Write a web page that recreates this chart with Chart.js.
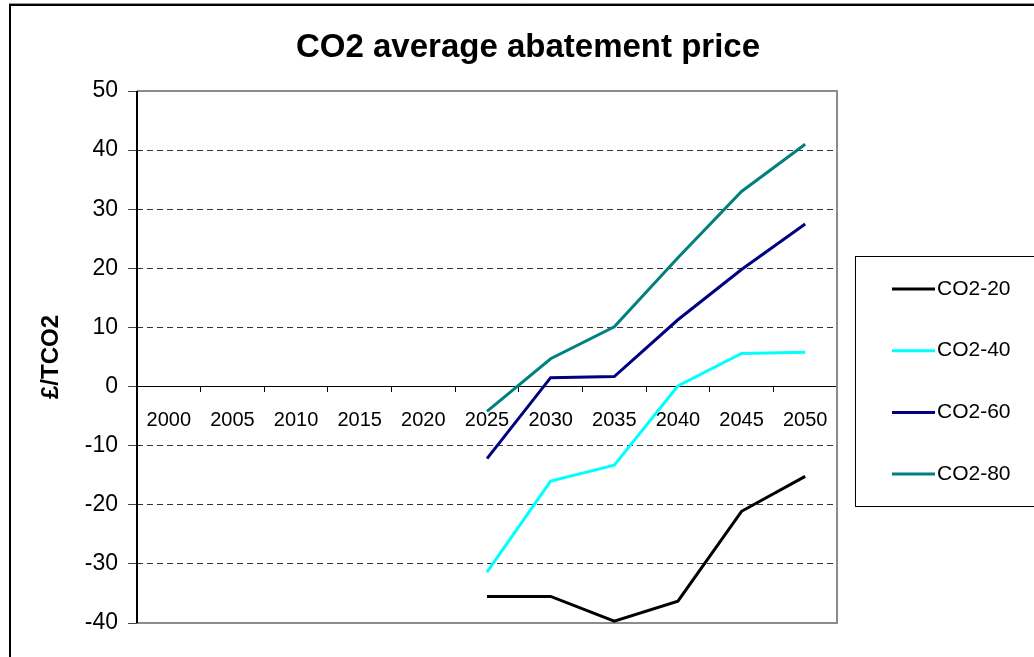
<!DOCTYPE html>
<html>
<head>
<meta charset="utf-8">
<script src="https://cdn.jsdelivr.net/npm/chart.js@4/dist/chart.umd.min.js"></script>
<style>
  html, body { margin: 0; padding: 0; background: #fff; }
  #wrap { width: 1034px; height: 657px; }
</style>
</head>
<body>
<div id="wrap"><canvas id="chart_canvas" width="1034" height="657"></canvas></div>
<script>
var years = ['2000', '2005', '2010', '2015', '2020', '2025', '2030', '2035', '2040', '2045', '2050'];
var co2_20 = [null, null, null, null, null, -35.5, -35.5, -39.7, -36.3, -21.1, -15.2];
var co2_40 = [null, null, null, null, null, -31.4, -16.0, -13.3, 0.1, 5.6, 5.8];
var co2_60 = [null, null, null, null, null, -12.2, 1.5, 1.7, 11.3, 19.8, 27.5];
var co2_80 = [null, null, null, null, null, -4.2, 4.7, 10.1, 21.8, 33.0, 41.0];
var yTicks = [-40, -30, -20, -10, 0, 10, 20, 30, 40, 50];

var FONT = "'Liberation Sans', Arial, sans-serif";

// frame, title, plot border and the boxed legend
var decor = {
  id: 'decor',
  beforeDraw: function(chart) {
    var c = chart.ctx;
    c.save();
    c.fillStyle = '#fff';
    c.fillRect(0, 0, chart.width, chart.height);
    c.strokeStyle = '#999';
    c.lineWidth = 1;
    c.beginPath(); c.moveTo(9, 3.5); c.lineTo(chart.width, 3.5); c.stroke();
    c.strokeStyle = '#000';
    c.lineWidth = 2;
    c.beginPath(); c.moveTo(10, chart.height); c.lineTo(10, 5); c.lineTo(chart.width, 5); c.stroke();
    c.fillStyle = '#000';
    c.font = 'bold 33px ' + FONT;
    c.textAlign = 'center';
    c.textBaseline = 'alphabetic';
    c.fillText('CO2 average abatement price', 528, 57);
    c.restore();
  },
  beforeDatasetsDraw: function(chart) {
    var a = chart.chartArea, c = chart.ctx;
    c.save();
    c.strokeStyle = '#8c8c8c';
    c.lineWidth = 2;
    c.beginPath();
    c.moveTo(a.left, a.top); c.lineTo(a.right, a.top); c.lineTo(a.right, a.bottom); c.lineTo(a.left, a.bottom);
    c.stroke();
    c.strokeStyle = '#000';
    c.lineWidth = 2;
    c.beginPath(); c.moveTo(a.left, a.top); c.lineTo(a.left, a.bottom); c.stroke();
    c.restore();
  },
  afterDraw: function(chart) {
    var c = chart.ctx;
    c.save();
    c.strokeStyle = '#000';
    c.lineWidth = 1;
    c.strokeRect(855.5, 256.5, 200, 250);
    c.font = '21px ' + FONT;
    c.textAlign = 'left';
    c.textBaseline = 'middle';
    chart.data.datasets.forEach(function(ds, i) {
      var y = 289 + i * 61.7;
      c.strokeStyle = ds.borderColor;
      c.lineWidth = 3;
      c.beginPath(); c.moveTo(892, y); c.lineTo(935, y); c.stroke();
      c.fillStyle = '#000';
      c.fillText(ds.label, 937, y);
    });
    c.restore();
  }
};

var ctx = document.getElementById('chart_canvas').getContext('2d');
window.price_chart = new Chart(ctx, {
  type: 'line',
  data: {
    labels: years,
    datasets: [
      { label: 'CO2-20', data: co2_20, borderColor: '#000000', backgroundColor: '#000000' },
      { label: 'CO2-40', data: co2_40, borderColor: '#00FFFF', backgroundColor: '#00FFFF' },
      { label: 'CO2-60', data: co2_60, borderColor: '#000080', backgroundColor: '#000080' },
      { label: 'CO2-80', data: co2_80, borderColor: '#008080', backgroundColor: '#008080' }
    ]
  },
  options: {
    responsive: false,
    animation: false,
    layout: { padding: { left: 0, top: 91, right: 197, bottom: 34 } },
    elements: {
      line: { borderWidth: 3, tension: 0, fill: false },
      point: { radius: 0, hoverRadius: 0 }
    },
    plugins: {
      legend: { display: false },
      title: { display: false },
      tooltip: { enabled: false }
    },
    scales: {
      x: {
        type: 'category',
        position: { y: 0 },
        offset: true,
        grid: { offset: true, drawOnChartArea: false, drawTicks: true, tickLength: 5, color: '#000', tickColor: '#000' },
        border: { display: true, color: '#000', width: 1 },
        ticks: { color: '#000', font: { family: FONT, size: 20 }, padding: 17, maxRotation: 0, autoSkip: false }
      },
      y: {
        min: -40,
        max: 50,
        afterBuildTicks: function(scale) { scale.ticks = yTicks.map(function(v) { return { value: v }; }); },
        afterFit: function(scale) { scale.width = 137; },
        grid: { color: '#333', lineWidth: 1, tickLength: 9, tickColor: '#444', tickBorderDash: [] },
        border: { display: false, dash: [6, 4] },
        ticks: { color: '#000', font: { family: FONT, size: 23 }, padding: 10 },
        title: { display: true, text: '£/TCO2', color: '#000', font: { family: FONT, size: 24, weight: 'bold' }, padding: { top: 37, bottom: 0 } }
      }
    }
  },
  plugins: [decor]
});
</script>
</body>
</html>
